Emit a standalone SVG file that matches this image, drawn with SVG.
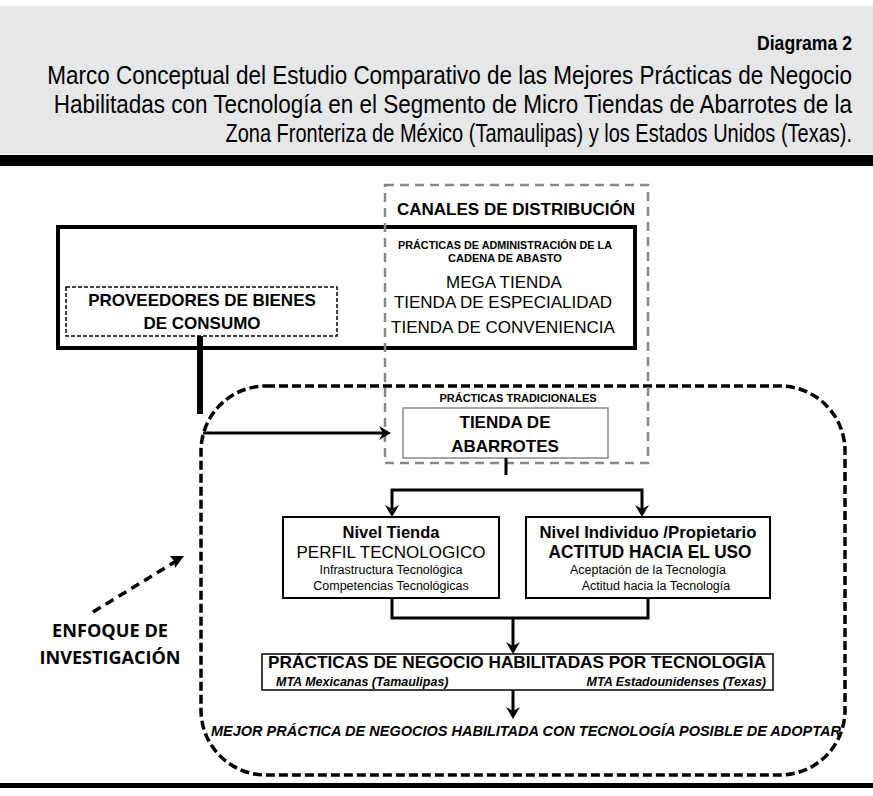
<svg xmlns="http://www.w3.org/2000/svg" width="873" height="796" viewBox="0 0 873 796">
<defs>
<style>
.t{font-family:"Liberation Sans",Arial,sans-serif;fill:#000}
.b{font-weight:bold}
.c{text-anchor:middle}
.h{font-family:"Liberation Sans",Arial,sans-serif;fill:#000;text-anchor:end}
.o{font-family:"Open Sans",sans-serif;font-weight:bold;fill:#000;text-anchor:middle}
.blk{fill:none;stroke:#000}
</style>
</defs>
<rect x="0" y="0" width="873" height="796" fill="#fff"/>
<g id="header">
<rect x="0" y="6" width="873" height="148" fill="#e6e7e8"/>
<rect x="0" y="155" width="873" height="11" fill="#000"/>
<text class="h b" x="0" y="0" font-size="21" transform="translate(852,50) scale(0.84,1)">Diagrama 2</text>
<text class="h" x="0" y="0" font-size="25" transform="translate(852,84) scale(0.9,1)">Marco Conceptual del Estudio Comparativo de las Mejores Prácticas de Negocio</text>
<text class="h" x="0" y="0" font-size="25" transform="translate(852,113) scale(0.9,1)">Habilitadas con Tecnología en el Segmento de Micro Tiendas de Abarrotes de la</text>
<text class="h" x="0" y="0" font-size="25" transform="translate(852,142) scale(0.8,1)">Zona Fronteriza de México (Tamaulipas) y los Estados Unidos (Texas).</text>
</g>
<g id="enfoque-region">
<rect x="201" y="386" width="644" height="389" rx="65" ry="65" fill="none" stroke="#000" stroke-width="3.5" stroke-dasharray="9,4"/>
</g>
<g id="supply-chain">
<rect x="58" y="227" width="577" height="121" fill="none" stroke="#000" stroke-width="4"/>
<text class="t b c" x="505" y="249" font-size="11" textLength="214" lengthAdjust="spacingAndGlyphs">PRÁCTICAS DE ADMINISTRACIÓN DE LA</text>
<text class="t b c" x="505" y="262" font-size="11">CADENA DE ABASTO</text>
<text class="t c" x="504" y="288" font-size="17">MEGA TIENDA</text>
<text class="t c" x="503" y="308" font-size="17">TIENDA DE ESPECIALIDAD</text>
<text class="t c" x="503" y="333" font-size="17">TIENDA DE CONVENIENCIA</text>
</g>
<g id="canales">
<rect x="385" y="185" width="263" height="278" fill="none" stroke="#888" stroke-width="2.5" stroke-dasharray="9,6"/>
<text class="t b c" x="516" y="215" font-size="16.5" textLength="238" lengthAdjust="spacingAndGlyphs">CANALES DE DISTRIBUCIÓN</text>
</g>
<g id="proveedores">
<rect x="66" y="287" width="271" height="49" fill="#fff" stroke="#000" stroke-width="1.5" stroke-dasharray="4,2"/>
<text class="t b c" x="202" y="306" font-size="17">PROVEEDORES DE BIENES</text>
<text class="t b c" x="202" y="329" font-size="17">DE CONSUMO</text>
</g>
<g id="tienda-abarrotes">
<text class="t b c" x="518" y="402" font-size="11" textLength="157" lengthAdjust="spacingAndGlyphs">PRÁCTICAS TRADICIONALES</text>
<rect x="403" y="408" width="205" height="50" fill="#fff" stroke="#888" stroke-width="1.5"/>
<text class="t b c" x="505" y="428" font-size="17">TIENDA DE</text>
<text class="t b c" x="505" y="452" font-size="17">ABARROTES</text>
</g>
<g id="nivel-tienda">
<rect x="283" y="517" width="216" height="81" fill="#fff" stroke="#000" stroke-width="2"/>
<text class="t b c" x="391" y="538" font-size="16.5">Nivel Tienda</text>
<text class="t c" x="391" y="558" font-size="17">PERFIL TECNOLOGICO</text>
<text class="t c" x="391" y="574" font-size="12.5">Infrastructura Tecnológica</text>
<text class="t c" x="391" y="590" font-size="12.5">Competencias Tecnológicas</text>
</g>
<g id="nivel-individuo">
<rect x="526" y="517" width="244" height="81" fill="#fff" stroke="#000" stroke-width="2"/>
<text class="t b c" x="648" y="538" font-size="16.5" textLength="217" lengthAdjust="spacingAndGlyphs">Nivel Individuo /Propietario</text>
<text class="t b c" x="650" y="558" font-size="17.5" textLength="203" lengthAdjust="spacingAndGlyphs">ACTITUD HACIA EL USO</text>
<text class="t c" x="648" y="574" font-size="12.5">Aceptación de la Tecnología</text>
<text class="t c" x="656" y="590" font-size="12.5">Actitud hacia la Tecnología</text>
</g>
<g id="practicas-negocio">
<rect x="262" y="654" width="511" height="36" fill="#fff" stroke="#000" stroke-width="1.5"/>
<text class="t b c" x="517" y="668" font-size="16.5" textLength="498" lengthAdjust="spacingAndGlyphs">PRÁCTICAS DE NEGOCIO HABILITADAS POR TECNOLOGÍA</text>
<text class="t b" x="276" y="686" font-size="12.5" font-style="italic">MTA Mexicanas (Tamaulipas)</text>
<text class="t b" x="766" y="686" font-size="12.5" font-style="italic" text-anchor="end">MTA Estadounidenses (Texas)</text>
</g>
<g id="mejor-practica">
<text class="t b c" x="526" y="736" font-size="14.5" font-style="italic" textLength="630" lengthAdjust="spacingAndGlyphs">MEJOR PRÁCTICA DE NEGOCIOS HABILITADA CON TECNOLOGÍA POSIBLE DE ADOPTAR</text>
</g>
<g id="enfoque-label">
<text class="o" x="110" y="637" font-size="17.5" textLength="116" lengthAdjust="spacingAndGlyphs">ENFOQUE DE</text>
<text class="o" x="110" y="664" font-size="17.5" textLength="141" lengthAdjust="spacingAndGlyphs">INVESTIGACIÓN</text>
</g>
<g id="connectors">
<line x1="200" y1="336" x2="200" y2="414" stroke="#000" stroke-width="6"/>
<line x1="203" y1="433" x2="384" y2="433" stroke="#000" stroke-width="3"/>
<path d="M391,433 l-12,-7 l4,7 l-4,7 z" fill="#000"/>
<polyline class="blk" points="506,458 506,475" stroke-width="3"/>
<polyline class="blk" points="392,510 392,490 642,490 642,510" stroke-width="3"/>
<path d="M392,517 l-7,-12 l7,4 l7,-4 z M642,517 l-7,-12 l7,4 l7,-4 z" fill="#000"/>
<polyline class="blk" points="392,598 392,618 648,618 648,598" stroke-width="3"/>
<line x1="513" y1="618" x2="513" y2="648" stroke="#000" stroke-width="3"/>
<path d="M513,654 l-7,-12 l7,4 l7,-4 z" fill="#000"/>
<line x1="513" y1="690" x2="513" y2="713" stroke="#000" stroke-width="3"/>
<path d="M513,719 l-7,-12 l7,4 l7,-4 z" fill="#000"/>
<line x1="93" y1="612" x2="178" y2="560" stroke="#000" stroke-width="3.5" stroke-dasharray="9,6"/>
<path d="M184,556 l-14,0 l4,5 l1,7 z" fill="#000"/>
</g>
<g id="footer">
<rect x="0" y="783" width="873" height="5" fill="#000"/>
</g>
</svg>
